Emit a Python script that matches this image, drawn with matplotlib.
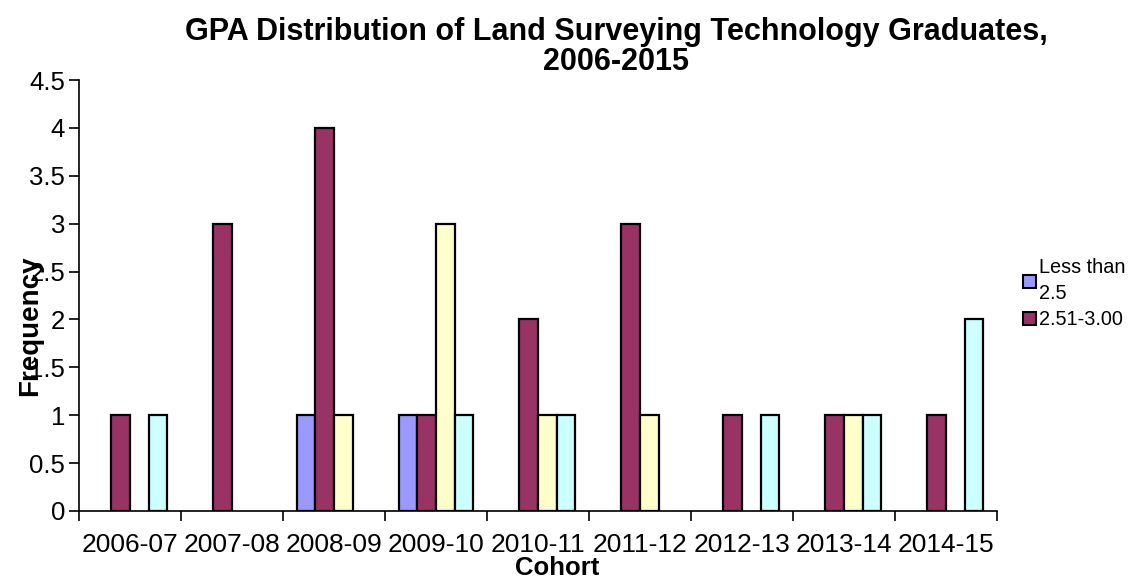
import numpy as np
import matplotlib as mpl
import matplotlib.pyplot as plt
from matplotlib.patches import Patch

mpl.rcParams['font.family'] = ['Liberation Sans', 'DejaVu Sans']

cohorts = ['2006-07', '2007-08', '2008-09', '2009-10', '2010-11',
           '2011-12', '2012-13', '2013-14', '2014-15']
less_than_2_5 = [0, 0, 1, 1, 0, 0, 0, 0, 0]
gpa_251_300 = [1, 3, 4, 1, 2, 3, 1, 1, 1]
gpa_301_350 = [0, 0, 1, 3, 1, 1, 0, 1, 0]
gpa_351_400 = [1, 0, 0, 1, 1, 0, 1, 1, 2]

series = [less_than_2_5, gpa_251_300, gpa_301_350, gpa_351_400]
colors = ['#9999FF', '#993366', '#FFFFCC', '#CCFFFF']

fig = plt.figure(figsize=(11.29, 5.8), dpi=100)
axes = fig.add_axes([79 / 1129, 1 - 511 / 580, (997 - 79) / 1129, (511 - 80) / 580])

n_cat = len(cohorts)
n_ser = len(series)
bar_w = 1.0 / (n_ser + 1.5)
x = np.arange(n_cat)
for i, (vals, col) in enumerate(zip(series, colors)):
    vals = np.array(vals, dtype=float)
    keep = vals > 0
    pos = x + 0.75 * bar_w + (i + 0.5) * bar_w
    axes.bar(pos[keep], vals[keep], width=bar_w, color=col, edgecolor='black',
             linewidth=1.6, zorder=3)

axes.set_xlim(0, n_cat)
axes.set_ylim(0, 4.5)
axes.set_yticks(np.arange(0, 4.51, 0.5))
axes.set_yticklabels(['0', '0.5', '1', '1.5', '2', '2.5', '3', '3.5', '4', '4.5'],
                     fontsize=18.5)
axes.set_xticks(np.arange(0, n_cat + 1))
axes.set_xticklabels([])
axes.set_xticks(x + 0.5, minor=True)
axes.set_xticklabels(cohorts, minor=True, fontsize=19)
axes.tick_params(axis='x', which='minor', length=0, pad=16)
axes.tick_params(axis='x', which='major', length=7, width=1.2, direction='out')
axes.tick_params(axis='y', length=7, width=1.2, direction='out', pad=3)

for side in ['top', 'right']:
    axes.spines[side].set_visible(False)
for side in ['left', 'bottom']:
    axes.spines[side].set_linewidth(1.2)

# axis titles placed by hand like the original
fig.text(557 / 1129, 1 - 568 / 580, 'Cohort', fontsize=18.5,
         fontweight='bold', ha='center', va='center')
fig.text(30 / 1129, 1 - 326 / 580, 'Frequency', rotation=90, fontsize=20,
         fontweight='bold', ha='center', va='center')

fig.text(616 / 1129, 1 - 47 / 580,
         'GPA Distribution of Land Surveying Technology Graduates,\n2006-2015',
         fontsize=22, fontweight='bold', ha='center', va='center',
         linespacing=1.0)

handles = [Patch(facecolor=colors[0], edgecolor='black', linewidth=1.5),
           Patch(facecolor=colors[1], edgecolor='black', linewidth=1.5)]
leg = fig.legend(handles, ['Less than\n2.5', '2.51-3.00'], loc='upper left',
                 bbox_to_anchor=(1005 / 1129, 1 - 240 / 580), frameon=False,
                 fontsize=14.3, handlelength=0.65, handleheight=0.65,
                 handletextpad=0.15, labelspacing=0.35)
for t in leg.get_texts():
    t.set_linespacing(1.5)

plt.savefig('out.png', dpi=100)
plt.close(fig)
